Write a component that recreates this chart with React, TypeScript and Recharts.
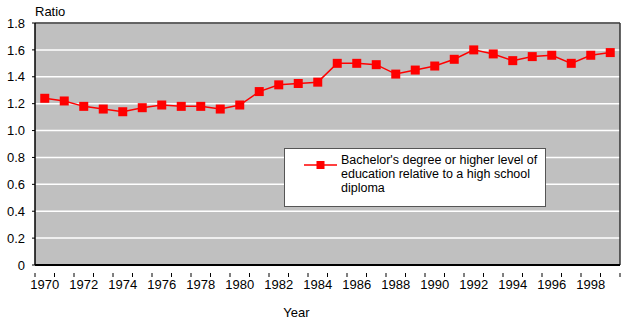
import { CartesianGrid, Label, Legend, Line, LineChart, ReferenceLine, XAxis, YAxis } from 'recharts'

const years = [
  1970, 1971, 1972, 1973, 1974, 1975, 1976, 1977, 1978, 1979, 1980, 1981, 1982, 1983, 1984,
  1985, 1986, 1987, 1988, 1989, 1990, 1991, 1992, 1993, 1994, 1995, 1996, 1997, 1998, 1999,
]
const ratio = [
  1.24, 1.22, 1.18, 1.16, 1.14, 1.17, 1.19, 1.18, 1.18, 1.16, 1.19, 1.29, 1.34, 1.35, 1.36,
  1.5, 1.5, 1.49, 1.42, 1.45, 1.48, 1.53, 1.6, 1.57, 1.52, 1.55, 1.56, 1.5, 1.56, 1.58,
]
const yTicks = [0, 0.2, 0.4, 0.6, 0.8, 1.0, 1.2, 1.4, 1.6, 1.8]
const seriesName = "Bachelor's degree or higher level of education relative to a high school diploma"
const legendLines = ["Bachelor's degree or higher level of", 'education relative to a high school', 'diploma']

const data = years.map((year, i) => ({ year, ratio: ratio[i] }))

// labels sit on the years, tick marks on the boundaries between years
const xTicks = [...years, ...years.map((y) => y - 0.5), 1999.5]

const FONT = 'Liberation Sans, Arial, sans-serif'
const RED = '#ff0000'

function SquareDot(props: { cx?: number; cy?: number; index?: number }) {
  const { cx, cy, index } = props
  if (cx == null || cy == null) return null
  return <rect key={index} x={cx - 4.5} y={cy - 4.5} width={9} height={9} fill={RED} />
}

function YearTick(props: { x?: number; y?: number; payload?: { value: number } }) {
  const { x = 0, y = 0, payload } = props
  const v = payload?.value ?? 0
  if (!Number.isInteger(v)) {
    return <line x1={x} x2={x} y1={y} y2={y + 4} stroke="#000" strokeWidth={1} />
  }
  if (v % 2 !== 0) return null
  return (
    <text x={x} y={y + 15.5} textAnchor="middle" fontFamily={FONT} fontSize={13} fill="#000">
      {v}
    </text>
  )
}

function LegendBox() {
  return (
    <div
      style={{
        width: 262,
        height: 59,
        background: '#fff',
        border: '1px solid #555',
        boxSizing: 'border-box',
        position: 'relative',
        fontFamily: FONT,
        fontSize: 12.5,
        color: '#000',
      }}
    >
      <svg width={40} height={20} style={{ position: 'absolute', left: 19, top: 6 }}>
        <line x1={0} x2={33} y1={10} y2={10} stroke={RED} strokeWidth={1.5} />
        <rect x={12.5} y={6} width={8} height={8} fill={RED} />
      </svg>
      <div style={{ position: 'absolute', left: 56, top: 4, lineHeight: '14px', whiteSpace: 'nowrap' }}>
        {legendLines.map((l) => (
          <div key={l}>{l}</div>
        ))}
      </div>
    </div>
  )
}

export default function App() {
  return (
    <div style={{ position: 'absolute', left: 0, top: 0, width: 623, height: 323, background: '#fff' }}>
      <LineChart width={623} height={323} data={data} margin={{ top: 23, right: 3, left: 0, bottom: 0 }}>
        <CartesianGrid vertical={false} fill="#c0c0c0" stroke="#ffffff" strokeWidth={1.5} horizontalValues={yTicks} />
        <XAxis
          dataKey="year"
          type="number"
          domain={[1969.5, 1999.5]}
          ticks={xTicks}
          interval={0}
          tickLine={false}
          tick={<YearTick />}
          axisLine={{ stroke: '#000', strokeWidth: 2 }}
          height={58}
        >
          <Label
            value="Year"
            position="insideBottom"
            offset={6}
            dx={-31}
            style={{ fontFamily: FONT, fontSize: 13, fill: '#000' }}
          />
        </XAxis>
        <YAxis
          domain={[0, 1.8]}
          ticks={yTicks}
          interval={0}
          width={35}
          tickSize={3}
          tickLine={{ stroke: '#000' }}
          axisLine={{ stroke: '#000', strokeWidth: 1.5 }}
          tickFormatter={(v: number) => (v === 0 ? '0' : v.toFixed(1))}
          tick={{ fontFamily: FONT, fontSize: 13, fill: '#000', dx: -5 }}
        >
          <Label
            content={(p: { viewBox?: { x: number; y: number; width: number } }) => {
              const vb = p.viewBox
              if (!vb) return null
              return (
                <text x={vb.x + vb.width} y={vb.y - 7} fontFamily={FONT} fontSize={13} fill="#000">
                  Ratio
                </text>
              )
            }}
          />
        </YAxis>
        <ReferenceLine y={1.8} stroke="#333" strokeWidth={1.5} />
        <ReferenceLine x={1999.5} stroke="#333" strokeWidth={1.5} />
        <Legend
          layout="vertical"
          align="center"
          verticalAlign="middle"
          content={() => <LegendBox />}
          wrapperStyle={{ position: 'absolute', left: 284, top: 148, width: 262, height: 59 }}
        />
        <Line
          name={seriesName}
          dataKey="ratio"
          stroke={RED}
          strokeWidth={1.5}
          dot={<SquareDot />}
          activeDot={false}
          isAnimationActive={false}
        />
      </LineChart>
    </div>
  )
}
